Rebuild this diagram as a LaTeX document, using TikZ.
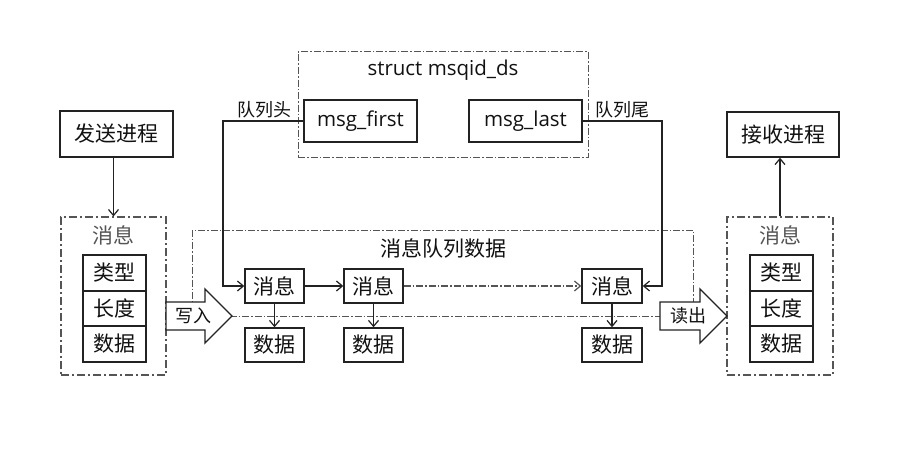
\documentclass[tikz,border=0pt]{standalone}
\usepackage{fontspec}
\setmainfont{Open Sans}
\newfontfamily\cjk{Noto Sans CJK SC}
\usetikzlibrary{arrows.meta}
\definecolor{ink}{HTML}{111111}
\definecolor{edge}{HTML}{222222}
\definecolor{dd}{HTML}{555555}
\begin{document}
\begin{tikzpicture}[x=1pt,y=-1pt,
  box/.style={draw=edge, line width=1.4pt, fill=white, inner sep=0pt, text=ink},
  zh/.style={font=\cjk\fontsize{21}{21}\selectfont, text=ink},
  zhs/.style={font=\cjk\fontsize{18}{18}\selectfont, text=ink, inner sep=0pt},
  lat/.style={font=\fontsize{20.5}{20.5}\selectfont, text=ink},
  ddbox/.style={draw=dd, line width=1pt, dash pattern=on 7pt off 2pt on 1.5pt off 2pt, inner sep=0pt},
  outer/.style={draw=dd, line width=1.2pt, dash pattern=on 8pt off 3pt on 2pt off 3pt, inner sep=0pt},
  conn/.style={draw=edge, line width=1.2pt, -{Straight Barb[length=6pt,width=10pt]}},
  fatarrow/.style={draw=edge, line width=1.3pt, fill=white},
  cell/.style={box, zh, minimum width=63, minimum height=36},
  msgbox/.style={box, zh, minimum width=59, minimum height=34},
]
\useasboundingbox (0,0) rectangle (899,452);
\fill[white] (0,0) rectangle (899,452);

% queue data area
\node[ddbox, minimum width=501, minimum height=86] (queue) at (442.5,273) {};
\node[zh] (qtitle) at (443,248) {消息队列数据};

% struct box
\node[ddbox, minimum width=290, minimum height=105] (struct) at (443,104.5) {};
\node[lat] (stitle) at (443,70) {struct msqid\_ds};
\node[box, lat, minimum width=113, minimum height=42] (first) at (360.5,121) {msg\_first};
\node[box, lat, minimum width=113, minimum height=42] (last) at (525.5,121) {msg\_last};
\node[zhs, anchor=south east] (head) at (292,118) {队列头};
\node[zhs, anchor=south west] (tail) at (595,118) {队列尾};

% processes
\node[box, zh, minimum width=113, minimum height=46] (send) at (116.5,134) {发送进程};
\node[box, zh, minimum width=112, minimum height=45] (recv) at (783,134.5) {接收进程};

% left message
\node[outer, minimum width=105, minimum height=158] (lbox) at (113.5,296) {};
\node[zh, text=dd] (llabel) at (113,235) {消息};
\node[cell] (lt) at (114.5,273) {类型};
\node[cell, minimum height=35] (ll) at (114.5,308.5) {长度};
\node[cell] (ld) at (114.5,344) {数据};

% right message
\node[outer, minimum width=106, minimum height=158] (rbox) at (780,296) {};
\node[zh, text=dd] (rlabel) at (780,235) {消息};
\node[cell] (rt) at (781.5,273) {类型};
\node[cell, minimum height=35] (rl) at (781.5,308.5) {长度};
\node[cell] (rd) at (781.5,344) {数据};

% queue messages
\node[msgbox] (m1) at (274.5,286) {消息};
\node[msgbox] (m2) at (373.5,286) {消息};
\node[msgbox, minimum width=60] (m3) at (612,286) {消息};
\node[msgbox] (d1) at (274.5,345) {数据};
\node[msgbox] (d2) at (373.5,345) {数据};
\node[msgbox, minimum width=60] (d3) at (612,345) {数据};

% write / read arrows
\draw[fatarrow] (166,302) -- (205,302) -- (205,289) -- (232,316) -- (205,343) -- (205,330) -- (166,330) -- cycle;
\node[zhs] (write) at (193,316) {写入};
\draw[fatarrow] (660,302) -- (700,302) -- (700,289) -- (727,316) -- (700,343) -- (700,330) -- (660,330) -- cycle;
\node[zhs] (read) at (688,316) {读出};

% connectors
\draw[conn] (lbox.north |- send.south) -- (lbox.north);
\draw[conn] (rbox.north) -- (rbox.north |- recv.south);
\coordinate (hc) at (223,121);
\coordinate (tc) at (662,121);
\draw[conn] (first.west) -- (hc) -- (hc |- m1.west) -- (m1.west);
\draw[conn] (last.east) -- (tc) -- (tc |- m3.east) -- (m3.east);
\draw[conn] (m1) -- (m2);
\draw[conn, draw=dd, dash pattern=on 7pt off 2pt on 1.5pt off 2pt] (m2) -- (m3);
\draw[conn] (m1) -- (d1);
\draw[conn] (m2) -- (d2);
\draw[conn] (m3) -- (d3);
\end{tikzpicture}
\end{document}
